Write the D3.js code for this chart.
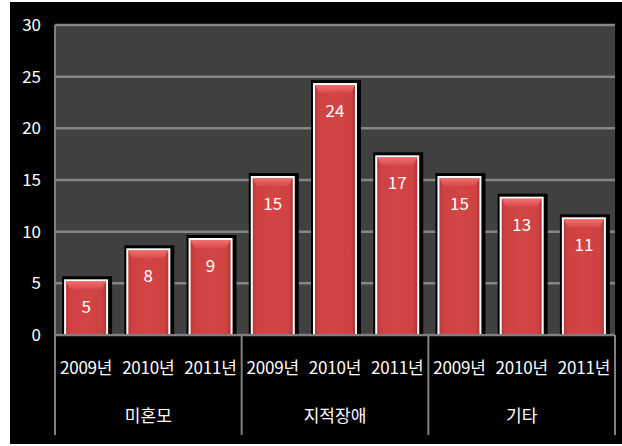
<!DOCTYPE html>
<html><head><meta charset="utf-8">
<script src="https://cdn.jsdelivr.net/npm/d3@7"></script>
<style>body{margin:0;background:#fff}svg{display:block}text{font-family:"Noto Sans CJK KR","Noto Sans",sans-serif}</style>
</head><body><svg id="c" width="622" height="446"></svg>
<script>
const groups = ["미혼모", "지적장애", "기타"];
const years = ["2009년", "2010년", "2011년"];
const values = [
  [5, 8, 9],
  [15, 24, 17],
  [15, 13, 11]
];
const yTicks = [0, 5, 10, 15, 20, 25, 30];

const svg = d3.select("#c");
const L = 55, R = 615, T = 25, B = 335;
const lift = 3;

svg.append("rect").attr("x", 10).attr("y", 2).attr("width", 612).attr("height", 442).attr("fill", "#000");

const defs = svg.append("defs");
const g1 = defs.append("linearGradient").attr("id", "barH").attr("x1", 0).attr("x2", 1).attr("y1", 0).attr("y2", 0);
g1.append("stop").attr("offset", 0).attr("stop-color", "#b53636");
g1.append("stop").attr("offset", 0.12).attr("stop-color", "#cf4242");
g1.append("stop").attr("offset", 0.5).attr("stop-color", "#d44545");
g1.append("stop").attr("offset", 0.88).attr("stop-color", "#cf4242");
g1.append("stop").attr("offset", 1).attr("stop-color", "#a83232");
const g2 = defs.append("linearGradient").attr("id", "barTop").attr("x1", 0).attr("x2", 0).attr("y1", 0).attr("y2", 1);
g2.append("stop").attr("offset", 0).attr("stop-color", "#f07070");
g2.append("stop").attr("offset", 1).attr("stop-color", "#d84a4a");

const cats = [];
groups.forEach((g, gi) => years.forEach((yr, yi) => cats.push({g, gi, yr, yi, v: values[gi][yi], key: g + "|" + yr})));

const x = d3.scaleBand().domain(cats.map(d => d.key)).range([L, R]).padding(0);
const y = d3.scaleLinear().domain([0, 30]).range([B, T]);
const bw = x.bandwidth() * 0.675;

svg.append("rect").attr("x", L).attr("y", T).attr("width", R - L).attr("height", B - T).attr("fill", "#404040");

svg.append("g").selectAll("line").data(yTicks).join("line")
  .attr("x1", L).attr("x2", R).attr("y1", d => y(d)).attr("y2", d => y(d))
  .attr("stroke", "#858585").attr("stroke-width", 2.5);

svg.append("g").selectAll("text").data(yTicks).join("text")
  .attr("x", 41).attr("y", d => y(d)).attr("dy", "0.35em").attr("text-anchor", "end")
  .attr("fill", "#fff").attr("font-size", 17).text(d => d);

const bars = svg.append("g").selectAll("g").data(cats).join("g")
  .attr("transform", d => `translate(${x(d.key) + (x.bandwidth() - bw) / 2},0)`);
bars.append("rect").attr("x", -3).attr("y", d => y(d.v) - lift - 4)
  .attr("width", bw + 8).attr("height", d => B - y(d.v) + lift + 4).attr("fill", "#000");
bars.append("rect").attr("x", 0).attr("y", d => y(d.v) - lift)
  .attr("width", bw).attr("height", d => B - y(d.v) + lift)
  .attr("fill", "url(#barH)").attr("stroke", "#fff").attr("stroke-width", 2);
bars.append("path")
  .attr("d", d => { const t = y(d.v) - lift + 1; return `M1,${t}H${bw - 1}L${bw - 5},${t + 8}H5Z`; })
  .attr("fill", "url(#barTop)");
bars.append("text").attr("x", bw / 2).attr("y", d => y(d.v) + 24).attr("dy", "0.35em")
  .attr("text-anchor", "middle").attr("fill", "#fff").attr("font-size", 17).text(d => d.v);

svg.append("line").attr("x1", L).attr("x2", L).attr("y1", T).attr("y2", 435).attr("stroke", "#808080").attr("stroke-width", 2);
const seps = groups.map((g, gi) => gi + 1);
svg.append("g").selectAll("line").data(seps).join("line")
  .attr("x1", d => L + (R - L) * d / groups.length).attr("x2", d => L + (R - L) * d / groups.length)
  .attr("y1", B).attr("y2", 435).attr("stroke", "#808080").attr("stroke-width", 2);
svg.append("line").attr("x1", L).attr("x2", R).attr("y1", B).attr("y2", B).attr("stroke", "#808080").attr("stroke-width", 2);

svg.append("g").selectAll("text").data(cats).join("text")
  .attr("x", d => x(d.key) + x.bandwidth() / 2).attr("y", 368).attr("dy", "0.35em")
  .attr("text-anchor", "middle").attr("fill", "#fff").attr("font-size", 17).attr("letter-spacing", -0.2).text(d => d.yr);

svg.append("g").selectAll("text").data(groups).join("text")
  .attr("x", (d, i) => L + (R - L) * (i + 0.5) / groups.length).attr("y", 416).attr("dy", "0.35em")
  .attr("text-anchor", "middle").attr("fill", "#fff").attr("font-size", 17).text(d => d);
</script></body></html>
